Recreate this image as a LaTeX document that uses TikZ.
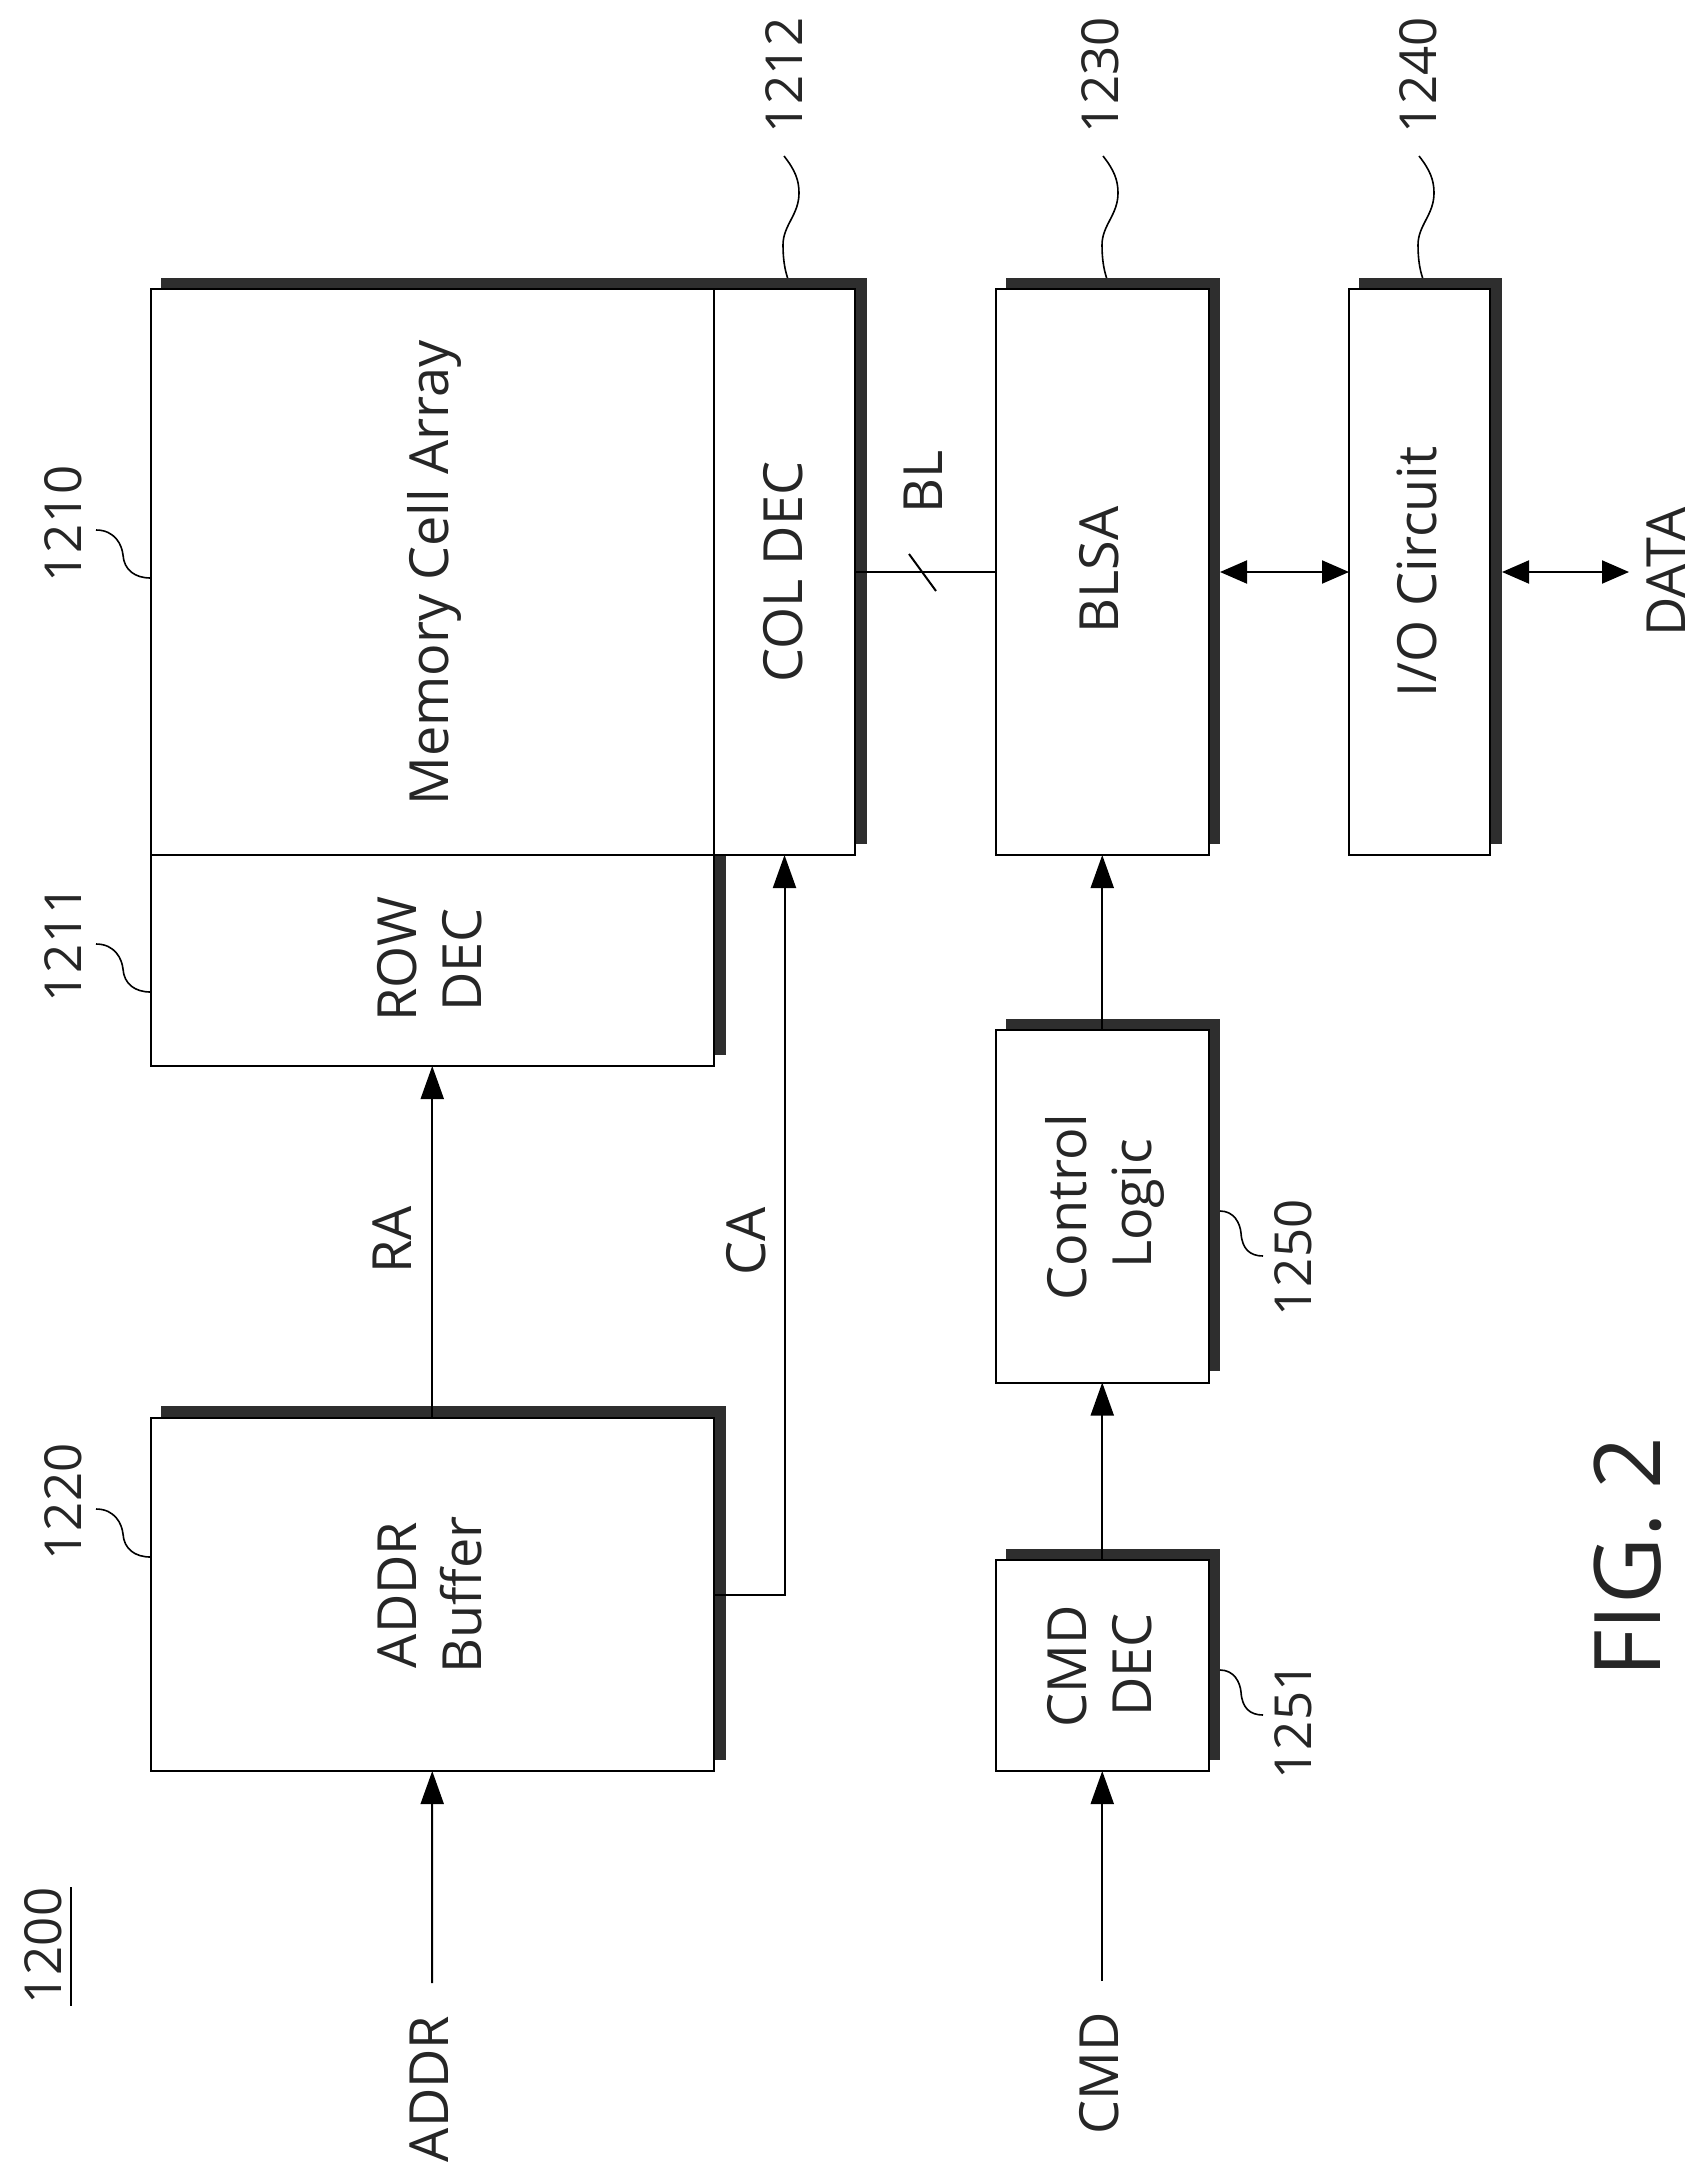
\documentclass[tikz,border=0pt]{standalone}
\usepackage{fontspec}
\setmainfont{Open Sans}
\usetikzlibrary{arrows.meta}
\tikzset{
  x=1pt,y=-1pt,
  lbl/.style={rotate=90,anchor=base,inner sep=0pt,font=\fontsize{54}{60}\selectfont,text=black!85},
  numl/.style={lbl,font=\fontsize{51}{60}\selectfont},
  figl/.style={lbl,font=\fontsize{92}{100}\selectfont},
  blockbox/.style={draw=black,line width=2pt,fill=white,inner sep=0pt,outer sep=0pt},
  shadowbox/.style={fill=black!82,inner sep=0pt,outer sep=0pt},
  conn/.style={draw=black,line width=2pt},
  varrow/.style={conn,-{Triangle[length=33pt,width=23pt]}},
  harrow/.style={conn,{Triangle[length=27pt,width=23pt]}-{Triangle[length=27pt,width=23pt]}},
  leader/.style={draw=black,line width=1.6pt},
}
% name, x1, y1, x2, y2
\newcommand\blk[5]{%
  \node[blockbox,minimum width={#4-#2},minimum height={#5-#3}] (#1) at ({(#2+#4)/2},{(#3+#5)/2}) {};}
% name, x1, y1, x2, y2
\newcommand\shd[5]{%
  \node[shadowbox,minimum width={#4-#2},minimum height={#5-#3}] (#1) at ({(#2+#4)/2},{(#3+#5)/2}) {};}
\newcommand\waveH[1]{\draw[leader,shift={(#1)}] (0,0) .. controls (19,0) and (26,15) .. (27,25) .. controls (28,40) and (39,48) .. (54.5,48);}
\newcommand\waveS[1]{\draw[leader,shift={(#1)}] (0,0) .. controls (14,0) and (20,12) .. (21,22) .. controls (22,38) and (30,45) .. (43,45);}
\newcommand\waveV[1]{\draw[leader,shift={(#1)}] (0,0) .. controls (11,14) and (15,24) .. (15,37) .. controls (15,59) and (-1,69) .. (-1,89) .. controls (-1,104) and (1,114) .. (3.6,122);}
\begin{document}
\begin{tikzpicture}
\useasboundingbox (0,0) rectangle (1705,2183);
\fill[white] (0,0) rectangle (1705,2183);

% shadows
\shd{mems}{161}{278}{867}{844}
\shd{rows}{600}{855}{726}{1055}
\shd{addrs}{161}{1406}{726}{1760}
\shd{blsas}{1006}{278}{1220}{844}
\shd{ios}{1359}{278}{1502}{844}
\shd{ctrls}{1006}{1019}{1220}{1371}
\shd{cmds}{1006}{1549}{1220}{1760}

% blocks
\blk{mem}{150.5}{289}{714}{855}
\blk{coldec}{714}{289}{855}{855}
\blk{rowdec}{150.5}{855}{714}{1066}
\blk{addr}{150.5}{1418}{714}{1771}
\blk{blsa}{996}{289}{1208.5}{855}
\blk{io}{1349}{289}{1490}{855}
\blk{ctrl}{996}{1030}{1208.5}{1382.5}
\blk{cmd}{996}{1560}{1208.5}{1771}

% free ends
\coordinate (addrin) at (432,1983);
\coordinate (cmdin) at (1102.25,1981);
\coordinate (datatip) at (1629,572);
\coordinate (slashA) at (909,554);
\coordinate (slashB) at (936,591);
\coordinate (l1210) at (96,530);
\coordinate (l1211) at (96,944);
\coordinate (l1220) at (96,1509);
\coordinate (l1212) at (784,156);
\coordinate (l1230) at (1103,156);
\coordinate (l1240) at (1419,156);
\coordinate (l1250) at (1220,1211);
\coordinate (l1251) at (1220,1670);

% connectors
\draw[varrow] (addrin) -- (addr.south);
\draw[varrow] (addr.north) -- (rowdec.south);
\draw[varrow] (addr.east) -| (coldec.south);
\draw[conn] (coldec.east) -- (blsa.west);
\draw[conn] (slashA) -- (slashB);
\draw[varrow] (ctrl.north) -- (blsa.south);
\draw[varrow] (cmd.north) -- (ctrl.south);
\draw[varrow] (cmdin) -- (cmd.south);
\draw[harrow] ([xshift=11.5pt]blsa.east) -- (io.west);
\draw[harrow] ([xshift=12pt]io.east) -- (datatip);

% leaders
\waveH{l1210}
\waveH{l1211}
\waveH{l1220}
\waveV{l1212}
\waveV{l1230}
\waveV{l1240}
\waveS{l1250}
\waveS{l1251}

% block labels
\node[lbl] (tmem) at (448,573) {Memory Cell Array};
\node[lbl] (tcol) at (802,572) {COL DEC};
\node[lbl] (trow1) at (416,959) {ROW};
\node[lbl] (trow2) at (481.5,960) {DEC};
\node[lbl] (taddr1) at (416,1595) {ADDR};
\node[lbl] (taddr2) at (481.5,1595) {Buffer};
\node[lbl] (tblsa) at (1118.5,570) {BLSA};
\node[lbl] (tio) at (1436,572) {I/O Circuit};
\node[lbl] (tctrl1) at (1086,1207) {Control};
\node[lbl] (tctrl2) at (1151,1204) {Logic};
\node[lbl] (tcmd1) at (1086,1666) {CMD};
\node[lbl] (tcmd2) at (1151,1665) {DEC};

% signal labels
\node[lbl] (tbl) at (942.5,482) {BL};
\node[lbl] (tra) at (411,1240) {RA};
\node[lbl] (tca) at (765,1241.5) {CA};
\node[lbl] (taddrin) at (448,2089) {ADDR};
\node[lbl] (tcmdin) at (1118.5,2073) {CMD};
\node[lbl] (tdata) at (1685,572) {DATA};

% reference numerals
\node[numl] (n1212) at (802,75.5) {1212};
\node[numl] (n1230) at (1118.5,75.5) {1230};
\node[numl] (n1240) at (1436,75.5) {1240};
\node[numl] (n1210) at (81,524) {1210};
\node[numl] (n1211) at (81,944) {1211};
\node[numl] (n1220) at (81,1502) {1220};
\node[numl] (n1250) at (1311,1258) {1250};
\node[numl] (n1251) at (1311,1721) {1251};
\node[numl] (n1200) at (61,1946) {1200};
\draw[conn] (71,1887) coordinate (ulA) -- (71,2006) coordinate (ulB);

\node[figl] (fig) at (1660,1557) {FIG. 2};
\end{tikzpicture}
\end{document}
